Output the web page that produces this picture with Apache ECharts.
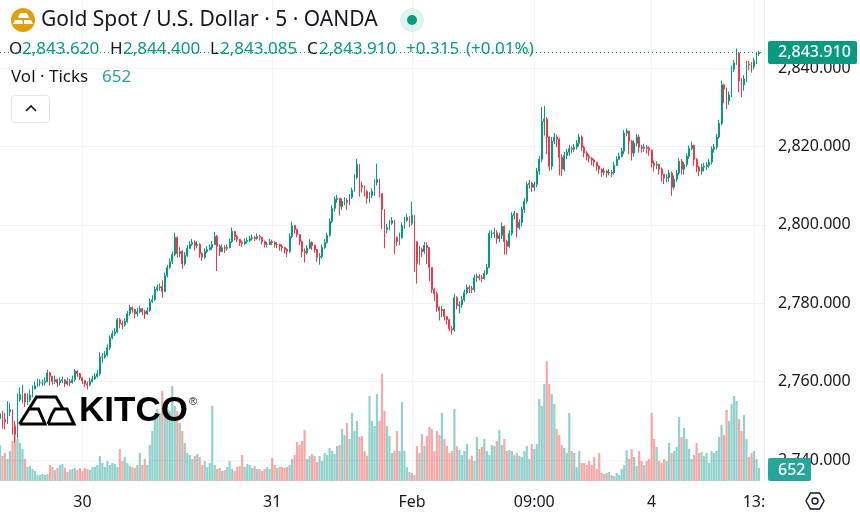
<!DOCTYPE html>
<html><head><meta charset="utf-8">
<style>html,body{margin:0;padding:0;background:#fff}#c{width:860px;height:518px}</style>
<script src="https://cdn.jsdelivr.net/npm/echarts@6/dist/echarts.min.js"></script></head>
<body><div id="c"></div>
<script>
const closes=[2751.8,2750.3,2749.7,2752.3,2752.8,2748.5,2746.6,2755.4,2756.7,2756.9,
2754.8,2755.3,2756.6,2758.1,2758.9,2759.7,2759.7,2759.7,2760,2762.2,
2761.4,2760,2760.5,2759.7,2760.2,2760.5,2759.4,2760,2759.7,2760.5,
2762.7,2762,2761,2760.2,2759.4,2759.2,2760,2760.7,2761.3,2762,
2766.3,2766.3,2766.8,2768.6,2771.2,2772.2,2772.7,2775.8,2774.8,2774.5,
2775.3,2777.3,2778.9,2778.4,2777.3,2777.8,2778.6,2777.8,2777.3,2778.1,
2780.4,2780.9,2783.5,2784,2784.2,2783,2787,2789.1,2790.6,2792.4,
2796.8,2792.7,2793.2,2790.1,2792.2,2794,2795,2795.5,2794.7,2795,
2792.7,2791.7,2793.2,2793.7,2794.2,2795,2797,2794.5,2793.2,2794.2,
2794,2794.2,2795.7,2798.3,2797,2796.3,2795.5,2795.2,2795.7,2796,
2796.5,2796.8,2796.5,2797,2796.8,2795.7,2795,2795,2795.7,2795.5,
2795,2795,2794.5,2794.2,2793.7,2793.2,2797,2799.8,2798.8,2797.5,
2795.7,2793.2,2792.9,2794,2795.5,2794.7,2793.7,2791.7,2791.9,2794.2,
2795.5,2797.3,2800.9,2804.2,2806.5,2806.8,2804.7,2806,2806.2,2805.7,
2807,2808.8,2812.1,2815.4,2810.1,2809.6,2808.5,2806.8,2807.5,2808.5,
2810.8,2811.6,2808,2803.9,2798.8,2799.3,2800.4,2801.1,2796.8,2795.7,
2796.8,2799.8,2801.1,2801.9,2800.4,2802.4,2795.7,2790.1,2793.7,2793.2,
2794.7,2794.2,2789.1,2783.5,2782.4,2778.9,2778.1,2778.4,2776.6,2775.8,
2773.5,2773.2,2781.4,2779.4,2779.6,2780.9,2782.7,2784,2783.7,2783.5,
2786.5,2786.8,2786.5,2786.3,2787.6,2789.1,2797.8,2797.8,2798,2796.5,
2797.3,2799.6,2795.7,2794.5,2797.8,2802.4,2802.9,2799.3,2800.6,2803.9,
2806,2810.3,2810.6,2809.6,2810.3,2813.7,2816.7,2826.4,2827,2822.4,
2814.9,2821.3,2822.4,2821.8,2817.2,2814.2,2817.7,2818.5,2819.5,2819.3,
2819.8,2820.8,2822.4,2819.8,2818.3,2817.5,2817,2816.5,2816,2815,
2814.2,2813.4,2813.7,2813.2,2813.4,2813.2,2815.2,2816.7,2817.5,2818.8,
2823.4,2823.9,2821.3,2818.3,2820.8,2822.4,2819.8,2819.5,2819.8,2819.5,
2819,2815.7,2815.2,2815.4,2814.2,2812.9,2811.9,2812.1,2813.2,2809.6,
2811.6,2813.2,2816.2,2814.2,2815.4,2817.5,2819.5,2820.3,2816.7,2814.7,
2813.7,2814.7,2814.9,2815.2,2816,2819.3,2819.8,2822.4,2825.9,2835.7,
2834.6,2831.6,2833.1,2839.7,2841.3,2843.8,2836.7,2835.7,2837.2,2841,
2840.8,2840.3,2841.8,2843.6,2843.91];
const opens=[2750.5,2751.8,2750.3,2749.7,2752.3,2752.8,2748.5,2746.6,2755.4,2756.7,
2756.9,2754.8,2755.3,2756.6,2758.1,2758.9,2759.7,2759.7,2759.7,2760,
2762.2,2761.4,2760,2760.5,2759.7,2760.2,2760.5,2759.4,2760,2759.7,
2760.5,2762.7,2762,2761,2760.2,2759.4,2759.2,2760,2760.7,2761.3,
2762,2766.3,2766.3,2766.8,2768.6,2771.2,2772.2,2772.7,2775.8,2774.8,
2774.5,2775.3,2777.3,2778.9,2778.4,2777.3,2777.8,2778.6,2777.8,2777.3,
2778.1,2780.4,2780.9,2783.5,2784,2784.2,2783,2787,2789.1,2790.6,
2792.4,2796.8,2792.7,2793.2,2790.1,2792.2,2794,2795,2795.5,2794.7,
2795,2792.7,2791.7,2793.2,2793.7,2794.2,2795,2797,2794.5,2793.2,
2794.2,2794,2794.2,2795.7,2798.3,2797,2796.3,2795.5,2795.2,2795.7,
2796,2796.5,2796.8,2796.5,2797,2796.8,2795.7,2795,2795,2795.7,
2795.5,2795,2795,2794.5,2794.2,2793.7,2793.2,2797,2799.8,2798.8,
2797.5,2795.7,2793.2,2792.9,2794,2795.5,2794.7,2793.7,2791.7,2791.9,
2794.2,2795.5,2797.3,2800.9,2804.2,2806.5,2806.8,2804.7,2806,2806.2,
2805.7,2807,2808.8,2812.1,2815.4,2810.1,2809.6,2808.5,2806.8,2807.5,
2808.5,2810.8,2811.6,2808,2803.9,2798.8,2799.3,2800.4,2801.1,2796.8,
2795.7,2796.8,2799.8,2801.1,2801.9,2800.4,2802.4,2795.7,2790.1,2793.7,
2793.2,2794.7,2794.2,2789.1,2783.5,2782.4,2778.9,2778.1,2778.4,2776.6,
2775.8,2773.5,2773.2,2781.4,2779.4,2779.6,2780.9,2782.7,2784,2783.7,
2783.5,2786.5,2786.8,2786.5,2786.3,2787.6,2789.1,2797.8,2797.8,2798,
2796.5,2797.3,2799.6,2795.7,2794.5,2797.8,2802.4,2802.9,2799.3,2800.6,
2803.9,2806,2810.3,2810.6,2809.6,2810.3,2813.7,2816.7,2826.4,2827,
2822.4,2814.9,2821.3,2822.4,2821.8,2817.2,2814.2,2817.7,2818.5,2819.5,
2819.3,2819.8,2820.8,2822.4,2819.8,2818.3,2817.5,2817,2816.5,2816,
2815,2814.2,2813.4,2813.7,2813.2,2813.4,2813.2,2815.2,2816.7,2817.5,
2818.8,2823.4,2823.9,2821.3,2818.3,2820.8,2822.4,2819.8,2819.5,2819.8,
2819.5,2819,2815.7,2815.2,2815.4,2814.2,2812.9,2811.9,2812.1,2813.2,
2809.6,2811.6,2813.2,2816.2,2814.2,2815.4,2817.5,2819.5,2820.3,2816.7,
2814.7,2813.7,2814.7,2814.9,2815.2,2816,2819.3,2819.8,2822.4,2825.9,
2835.7,2834.6,2831.6,2833.1,2839.7,2841.3,2843.8,2836.7,2835.7,2837.2,
2841,2840.8,2840.3,2841.8,2843.62];
const highs=[2754,2752.5,2752,2755,2754.5,2753,2750,2757,2758.5,2759.2,
2756.5,2757,2758,2759,2760,2760.8,2760.6,2760.5,2761,2763,
2762.5,2761.4,2761.5,2760.8,2761,2761.3,2760.7,2761,2760.7,2761.5,
2763.2,2762.9,2762.2,2761.2,2760.3,2760,2761,2761.5,2762.2,2763,
2767.5,2767.3,2767.8,2769.5,2771.8,2773,2773.6,2776.2,2776.2,2775.6,
2776.2,2778,2779.6,2779.2,2778.6,2778.8,2779.4,2778.8,2778.3,2778.9,
2781.2,2782,2784.3,2784.8,2785,2785.8,2787.8,2789.8,2791.4,2793.2,
2798,2797,2794.3,2793.5,2793,2794.8,2795.8,2796.4,2796,2795.8,
2795.3,2793,2794,2794.6,2795,2795.8,2798.2,2797.4,2795,2795,
2794.8,2795,2796.5,2799.3,2798.4,2797.4,2796.4,2796,2796.5,2796.7,
2797.2,2797.5,2797.2,2797.8,2797.5,2796.9,2796,2795.7,2796.4,2796.2,
2795.8,2795.6,2795.2,2795,2794.4,2794,2797.8,2800.8,2800,2799,
2797.6,2796,2794,2794.8,2796.3,2795.8,2795,2793.8,2792.8,2795,
2796.3,2798,2801.6,2805,2807.2,2807.6,2806.8,2806.8,2807,2806.8,
2807.8,2809.5,2812.9,2816.8,2815.4,2811,2810,2808.8,2808.3,2809.3,
2811.6,2815.6,2811.8,2808,2804,2800.2,2801.2,2802,2801.3,2797,
2798,2800.6,2802,2802.8,2802.2,2805.9,2802.4,2795.7,2794.6,2794.2,
2795.6,2795.5,2794.2,2789,2784,2783,2779.2,2779.3,2778.6,2776.8,
2776,2774.2,2782.4,2781.8,2780.5,2781.8,2783.5,2784.8,2784.6,2784.4,
2787.3,2787.6,2787.4,2787.2,2788.4,2790,2798.6,2798.6,2799.2,2798.6,
2798,2800.6,2799.8,2796.2,2798.6,2803.2,2803.6,2803,2801.4,2804.7,
2806.8,2811,2811.5,2811,2811,2814.5,2817.5,2830,2830.3,2827.5,
2822.6,2822.4,2823.4,2823,2822.2,2818,2818.6,2819.4,2820.4,2820,
2820.6,2821.6,2823.2,2822.8,2820.2,2818.8,2818,2817.3,2816.8,2816,
2815.2,2814.4,2814.6,2814,2814.2,2814,2816,2817.5,2818.4,2819.6,
2824.2,2824.6,2824,2821.6,2821.6,2823.2,2823,2820.4,2820.7,2820.4,
2820,2819.2,2816.4,2816.2,2815.6,2814.6,2813,2812.9,2814,2813.6,
2812.6,2814,2817,2816.8,2816,2818.2,2820.2,2821.2,2820.4,2817,
2815,2815.6,2815.8,2816,2816.8,2820,2820.6,2823.2,2826.8,2836.8,
2836,2835,2834,2840.6,2842,2845,2844,2837.4,2838.2,2841.8,
2841.8,2841.5,2842.6,2844,2844.4];
const lows=[2749.5,2748,2747.8,2749.2,2751.2,2746.5,2744.5,2745.5,2754.8,2754.5,
2753.5,2754,2754.8,2756,2758,2758.6,2758.8,2758.9,2759,2759.8,
2759,2759.2,2759.4,2758.6,2759,2759.6,2758.6,2759,2758.8,2759.5,
2760,2761.2,2760.4,2759.4,2758.6,2758,2758.8,2759.8,2760.4,2761,
2761.5,2764.8,2765.8,2766.4,2768,2770.8,2771.6,2772.4,2773.6,2773.4,
2774,2775,2776.8,2777.6,2776.2,2776.6,2777.4,2777,2776,2777,
2777.8,2780,2780.6,2783,2783.2,2781.4,2782.8,2786.6,2788.8,2790,
2792,2791.6,2791.8,2788.8,2789.6,2791.8,2793.8,2794.6,2793.4,2794,
2791.6,2790.8,2791.2,2792.8,2793.4,2793.6,2794.8,2788.2,2792,2793,
2792.8,2793.4,2794,2795.4,2796,2795.6,2794.6,2794.4,2794.8,2795.2,
2795.6,2796,2795.8,2796.2,2796,2795,2794.2,2794.2,2794.8,2794.8,
2794.2,2794,2793.4,2793.2,2792.6,2791.8,2792.8,2796.6,2797.8,2796.8,
2794.8,2791.8,2790.4,2792.4,2793.8,2793.6,2792.8,2790.6,2789.8,2791.4,
2793.8,2795.2,2797,2800.4,2803.4,2805.6,2802.4,2803.8,2805,2803.8,
2805,2806.6,2808.4,2811.6,2807.2,2808.2,2807.2,2805.4,2805.6,2806.8,
2807.4,2810,2807,2799,2794,2797.8,2798.6,2800,2792.5,2794.6,
2794.8,2796.4,2799,2800.8,2799.4,2799.8,2788,2785,2789.8,2791.8,
2792.6,2790,2785.6,2782.6,2780.6,2777.8,2775.6,2776.4,2775.6,2774.6,
2772.8,2772,2772.8,2778.4,2777.4,2778.8,2780.4,2782.2,2782.6,2782.6,
2782.8,2785.4,2785.8,2785.4,2786,2787.2,2789,2796.6,2796.6,2795.2,
2795.6,2796.4,2792.4,2792.4,2794,2797.2,2801.4,2796.8,2798.8,2799.6,
2803,2805.4,2809.2,2808.4,2808.6,2809.6,2812.8,2816,2822.8,2818,
2813.8,2814,2820.6,2819.8,2812.6,2812.4,2813.6,2816.8,2817.6,2818.2,
2818.6,2819.2,2820,2818.8,2817.2,2816.4,2815.9,2815.2,2814.8,2813.8,
2813,2812.2,2812.6,2812,2812.6,2812.2,2812.8,2815,2816.6,2817.2,
2818,2822.6,2818,2816.4,2817.4,2820,2818.4,2818.4,2818.6,2818.2,
2817.6,2814.6,2813.6,2814.2,2812.8,2811,2810.4,2810.8,2811,2807.4,
2809,2811,2812.6,2812.8,2812.8,2814.8,2816.8,2819,2815,2813.4,
2812.4,2812.8,2813.6,2814,2814.6,2815.4,2818.4,2819.2,2822,2825.4,
2831,2829.5,2830.6,2832.6,2839,2840.8,2833.8,2832.6,2834.2,2836.4,
2839.4,2838.8,2839.6,2841,2843.085];
const volumes=[1800,1250,1400,1100,1500,2000,2850,2100,1900,1600,
1100,700,750,600,500,300,300,350,300,350,
800,700,550,650,800,850,650,450,550,600,
650,550,650,500,650,600,550,700,700,800,
1250,900,700,1000,800,900,850,700,1600,1000,
1200,900,750,700,650,800,1400,800,1100,800,
1800,2500,3300,3600,3400,4500,3250,3600,3500,4750,
3750,3500,2900,2500,1900,1400,1300,1100,1250,1350,
1200,800,1000,700,900,3750,800,600,650,500,
550,700,1000,600,500,700,750,1300,700,850,
800,650,750,600,600,500,600,700,600,1150,
800,650,700,700,650,700,800,1100,1300,1950,
1800,2000,2550,1100,1250,1350,1250,950,1250,1000,
1400,1300,1650,1500,1350,1750,1800,2600,2300,2900,
2100,3400,2500,3000,2200,2250,1500,1250,4250,3000,
2750,4350,3000,5350,3500,2750,2250,1400,1500,2500,
1500,3950,1500,700,450,400,300,1750,1400,2350,
1750,2250,2700,2600,1500,2500,2300,3400,2100,1750,
1400,1500,3600,1750,1550,1300,1500,1850,1100,1250,
1000,2200,1600,1700,2100,1500,1300,1800,1750,2000,
2550,1800,2100,1500,1550,1500,1300,1400,1250,1200,
1500,1750,1100,1850,1600,1850,4100,3750,4850,6000,
4850,4350,3850,2600,2300,1800,1650,1400,3400,1500,
1400,700,1500,900,900,800,1000,800,1200,600,
1400,400,350,400,450,300,250,400,300,600,
800,1550,1100,1600,1200,750,1500,1000,800,1000,
1100,3400,2100,1700,1000,900,1100,1000,1900,1400,
1500,1700,3200,2200,2650,2100,1600,1100,1300,1900,
1400,1450,1250,1400,900,1500,1400,1500,2200,2800,
2300,3550,3000,3850,4250,4000,3100,2500,3300,2100,
1200,1400,1500,1100,652];
const slotCount=307;
const timeTicks={33:'30',109:'31',165:'Feb',214:'09:00',261:'4',302:'13:'};
const priceTicks=[2740,2760,2780,2800,2820,2840];
const lastPrice=2843.91, lastVolume=652;
const titleText='Gold Spot / U.S. Dollar · 5 · OANDA';

const UP='#089981',DOWN='#f23645',INK='#131722',GRID='#f0f3fa',F='"Noto Sans"';
const categories=Array.from({length:slotCount},(_,i)=>timeTicks[i]||'');
const candles=closes.map((c,i)=>[opens[i],c,lows[i],highs[i]]);
const vols=volumes.map((v,i)=>({value:v,itemStyle:{color:closes[i]>=opens[i]?'rgba(38,166,154,.5)':'rgba(239,83,80,.5)'}}));
const showTick=(i,v)=>v!=='';
const T=(text,x,y,fill,size,extra)=>({type:'text',x,y,z:100,silent:true,style:Object.assign({text,fill,fontFamily:F,fontSize:size,verticalAlign:'middle',align:'left'},extra||{})});
const ohlc=[['O',9,INK],['2,843.620',22,UP],['H',110,INK],['2,844.400',123,UP],['L',210,INK],['2,843.085',220,UP],['C',307,INK],['2,843.910',319,UP],['+0.315',406,UP],['(+0.01%)',466,UP]];
const graphic=[
 {type:'circle',z:100,shape:{cx:23,cy:20,r:12},style:{fill:'#dca10d'}},
 {type:'polygon',z:101,shape:{points:[[20,13],[27,13],[29,18],[18,18]]},style:{fill:'#fff'}},
 {type:'polygon',z:101,shape:{points:[[15,20],[22,20],[23,24],[13,24]]},style:{fill:'#fff'}},
 {type:'polygon',z:101,shape:{points:[[24,20],[31,20],[33,24],[24,24]]},style:{fill:'#fff'}},
 T(titleText,41,20,INK,21),
 {type:'circle',z:100,shape:{cx:412,cy:20,r:12},style:{fill:'rgba(8,153,129,.12)'}},
 {type:'circle',z:101,shape:{cx:412,cy:20,r:5},style:{fill:UP}},
 ...ohlc.map(o=>T(o[0],o[1],49,o[2],17)),
 T('Vol · Ticks',11,77,INK,17),
 T('652',102,77,'#26a69a',17),
 {type:'rect',z:100,shape:{x:11.5,y:95.5,width:38,height:27,r:3},style:{fill:'#fff',stroke:'#e0e3eb',lineWidth:1}},
 {type:'polyline',z:101,shape:{points:[[26,111],[31,106],[36,111]]},style:{stroke:INK,lineWidth:1.6,fill:null}},
 {type:'polyline',z:100,shape:{points:[[19.5,424],[29,409],[38.5,409],[45,424],[19.5,424]]},style:{stroke:'#000',lineWidth:3,fill:null}},
 {type:'polyline',z:100,shape:{points:[[29,409],[36.5,397],[56,397],[63,409]]},style:{stroke:'#000',lineWidth:3,fill:null}},
 {type:'polyline',z:100,shape:{points:[[48,424],[52,414],[55,409],[67,409],[74,424],[48,424]]},style:{stroke:'#000',lineWidth:3,fill:null}},
 T('KITCO',79,411,'#000',35,{fontFamily:'"Liberation Sans"',fontWeight:'bold'}),
 T('®',189,402,'#222',11,{fontFamily:'"Liberation Sans"'}),
 {type:'rect',z:100,shape:{x:768,y:41,width:89,height:23,r:2},style:{fill:UP}},
 T('2,843.910',778,52,'#fff',16,{fontWeight:500}),
 {type:'rect',z:100,shape:{x:768,y:458,width:43,height:23,r:2},style:{fill:'#26a69a'}},
 T(String(lastVolume),778,470,'#fff',16,{fontWeight:500}),
 {type:'polygon',z:100,shape:{points:[[806,501],[810.5,493],[819.5,493],[824,501],[819.5,509],[810.5,509]]},style:{fill:'#fff',stroke:INK,lineWidth:1.4}},
 {type:'circle',z:101,shape:{cx:815,cy:501,r:3},style:{fill:'#fff',stroke:INK,lineWidth:1.4}}
];
const chart=echarts.init(document.getElementById('c'),null,{renderer:'canvas'});
chart.setOption({
 animation:false,backgroundColor:'#fff',
 grid:{left:0,top:0,width:764,height:481},
 xAxis:{type:'category',data:categories,boundaryGap:false,
  axisLine:{show:false},axisTick:{show:false},
  axisLabel:{interval:showTick,color:INK,fontFamily:F,fontSize:16,margin:13,hideOverlap:false},
  splitLine:{show:true,interval:showTick,lineStyle:{color:GRID,width:1}}},
 yAxis:[
  {type:'value',position:'right',min:2734.64,max:2857.35,scale:true,
   axisLine:{show:true,lineStyle:{color:'#e8eaf0',width:1}},
   axisTick:{show:false,customValues:priceTicks},
   axisLabel:{customValues:priceTicks,color:INK,fontFamily:F,fontSize:16,margin:14,
    formatter:v=>v.toLocaleString('en-US')+'.000'},
   splitLine:{show:true,lineStyle:{color:GRID,width:1}}},
  {type:'value',position:'right',min:0,max:24050,show:false,splitLine:{show:false}}
 ],
 graphic,
 series:[
  {type:'bar',name:'Vol',xAxisIndex:0,yAxisIndex:1,data:vols,barWidth:2.2,silent:true},
  {type:'candlestick',name:'Gold',xAxisIndex:0,yAxisIndex:0,data:candles,barWidth:1.4,silent:true,
   itemStyle:{color:UP,color0:DOWN,borderColor:UP,borderColor0:DOWN,borderWidth:1},
   markLine:{silent:true,symbol:'none',label:{show:false},animation:false,
    lineStyle:{type:[1,3],color:UP,width:1},data:[{yAxis:lastPrice}]}}
 ]
});
</script></body></html>
